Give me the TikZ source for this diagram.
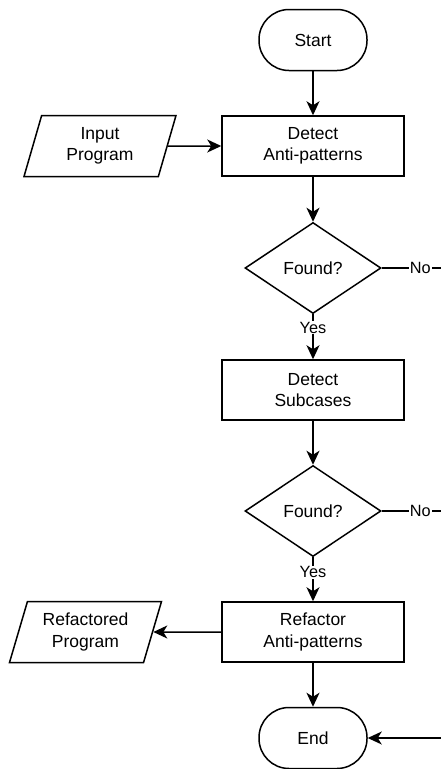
\documentclass[tikz,border=0pt]{standalone}
\usepackage{fontspec}
\setmainfont{Liberation Sans}
\usetikzlibrary{shapes.geometric, arrows.meta}
\begin{document}
\begin{tikzpicture}[x=1pt, y=-1pt,
  txt/.style={font=\fontsize{17.5}{21.5}\selectfont, align=center, inner sep=0pt},
  shapeline/.style={draw, line width=1.5pt},
  terminal/.style={txt, shapeline, rectangle, rounded corners=30pt,
    minimum width=108pt, minimum height=61pt},
  process/.style={txt, shapeline, rectangle, minimum width=182pt, minimum height=60pt},
  decision/.style={txt, shapeline, diamond, aspect=1.5,
    minimum width=136pt, minimum height=91pt},
  io/.style={txt, shapeline, trapezium, trapezium left angle=64.6,
    trapezium right angle=115.4, trapezium stretches body,
    minimum width=152pt, minimum height=61pt},
  flow/.style={line width=1.5pt, -{Stealth[length=14pt, width=13pt, inset=4pt]}},
  plain/.style={line width=1.5pt},
  lbl/.style={font=\fontsize{16.3}{19}\selectfont, fill=white, inner sep=1pt}
]
\useasboundingbox (0,0) rectangle (441,769);

% main column
\node[terminal] (start) at (313,40) {Start};
\node[process] (detect) at (313,146) {Detect\\Anti-patterns};
\node[decision] (found1) at (313,268) {Found?};
\node[process] (subcases) at (313,390) {Detect\\Subcases};
\node[decision] (found2) at (313,511) {Found?};
\node[process] (refactor) at (313,632) {Refactor\\Anti-patterns};
\node[terminal] (end) at (313,738) {End};

% input and output data
\node[io] (input) at (100,146) {Input\\Program};
\node[io] (output) at (85.5,632) {Refactored\\Program};

% loose ends running off to the right
\coordinate (no1) at (441,268);
\coordinate (no2) at (441,511);
\coordinate (back) at (441,738);

% connectors
\draw[flow] (start) -- (detect);
\draw[flow] (input) -- (detect);
\draw[flow] (detect) -- (found1);
\draw[flow] (found1) -- (subcases) node[lbl, pos=0.3] {Yes};
\draw[plain] (found1) -- (no1) node[lbl, pos=0.65] {No};
\draw[flow] (subcases) -- (found2);
\draw[flow] (found2) -- (refactor) node[lbl, pos=0.34] {Yes};
\draw[plain] (found2) -- (no2) node[lbl, pos=0.65] {No};
\draw[flow] (refactor) -- (output);
\draw[flow] (refactor) -- (end);
\draw[flow] (back) -- (end);
\end{tikzpicture}
\end{document}
